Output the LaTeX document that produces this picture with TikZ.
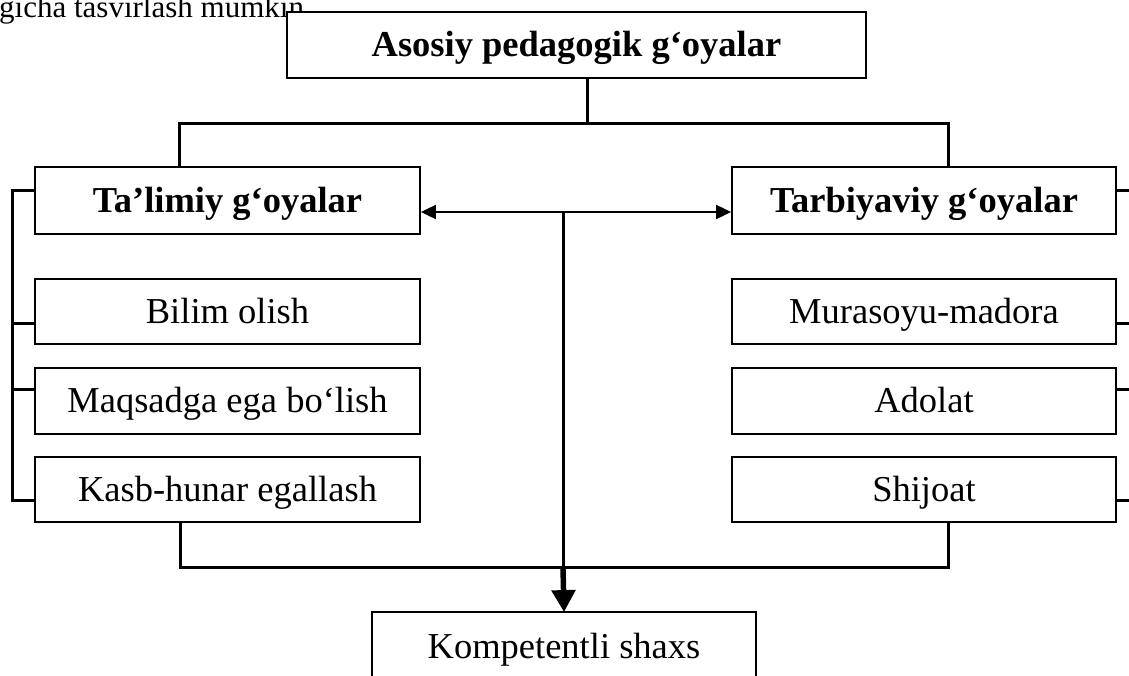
\documentclass[tikz,border=0pt]{standalone}
\usepackage{fontspec}
\setmainfont{Liberation Serif}
\usetikzlibrary{arrows.meta}
\tikzset{
  box/.style={draw, line width=1.8pt, fill=white, inner sep=0pt,
    text height=26pt, text depth=3pt, font=\fontsize{36.5}{40}\selectfont},
  bbox/.style={box, font=\fontsize{36.5}{40}\selectfont\bfseries},
  conn/.style={line width=3pt},
  thin arrow/.style={line width=2pt, {Triangle[length=15pt,width=14pt]}-{Triangle[length=15pt,width=14pt]}},
  big arrow/.style={line width=5.5pt, -{Triangle[length=22pt,width=23pt]}, shorten >=-1pt}
}
\begin{document}
\begin{tikzpicture}[x=1pt,y=-1pt]
\useasboundingbox (0,0) rectangle (1129,675);
% intro text (partially hidden by top box)
\node[anchor=base west, inner sep=0pt, font=\fontsize{31}{34}\selectfont] (intro) at (-1,17) {gicha tasvirlash mumkin};
% boxes
\node[bbox, minimum width=579pt, minimum height=66pt] (top) at (576.5,45) {Asosiy pedagogik g‘oyalar};
\node[bbox, minimum width=385pt, minimum height=67pt] (tal) at (227.5,200.5) {Ta’limiy g‘oyalar};
\node[bbox, minimum width=384pt, minimum height=67pt] (tar) at (924,200.5) {Tarbiyaviy g‘oyalar};
\node[box, minimum width=385pt, minimum height=65pt] (b1) at (227.5,311.5) {Bilim olish};
\node[box, minimum width=385pt, minimum height=66pt] (b2) at (227.5,401) {Maqsadga ega bo‘lish};
\node[box, minimum width=385pt, minimum height=65pt] (b3) at (227.5,489.5) {Kasb-hunar egallash};
\node[box, minimum width=384pt, minimum height=65pt] (r1) at (924,311.5) {Murasoyu-madora};
\node[box, minimum width=384pt, minimum height=66pt] (r2) at (924,401) {Adolat};
\node[box, minimum width=384pt, minimum height=65pt] (r3) at (924,489.5) {Shijoat};
\node[box, minimum width=384pt, minimum height=70pt] (komp) at (564,647) {Kompetentli shaxs};
% junction coordinates
\coordinate (j1) at (587,123);
\coordinate (j2) at (563,212);
\coordinate (j3) at (563,567);
\coordinate (lt) at (12,190);
\coordinate (lb) at (12,500);
\coordinate (rt) at (1134,190);
\coordinate (rb) at (1134,500);
% top tree
\draw[conn] ([xshift=10.5pt]top.south) -- (j1);
\draw[conn] ([xshift=-48.5pt]tal.north) |- (j1) -| ([xshift=24pt]tar.north);
% left bracket
\draw[conn] ([yshift=10.5pt]tal.west) -- (lt) -- (lb) -- ([yshift=-10.5pt]b3.west);
\draw[conn] ([yshift=-11.5pt]b1.west) -- ([yshift=-11.5pt]b1.west -| lt);
\draw[conn] ([yshift=12pt]b2.west) -- ([yshift=12pt]b2.west -| lt);
% right bracket
\draw[conn] ([yshift=10.5pt]tar.east) -- (rt) -- (rb) -- ([yshift=-10.5pt]r3.east);
\draw[conn] ([yshift=-11.5pt]r1.east) -- ([yshift=-11.5pt]r1.east -| rt);
\draw[conn] ([yshift=12pt]r2.east) -- ([yshift=12pt]r2.east -| rt);
% double arrow
\draw[thin arrow] ([yshift=-11.5pt]tal.east) -- ([yshift=-11.5pt]tar.west);
% central line and bottom
\draw[conn] (j2) -- (j3);
\draw[conn] ([xshift=-47.5pt]b3.south) |- (j3) -| ([xshift=24pt]r3.south);
\draw[big arrow] (j3) -- (komp.north);
\end{tikzpicture}
\end{document}
